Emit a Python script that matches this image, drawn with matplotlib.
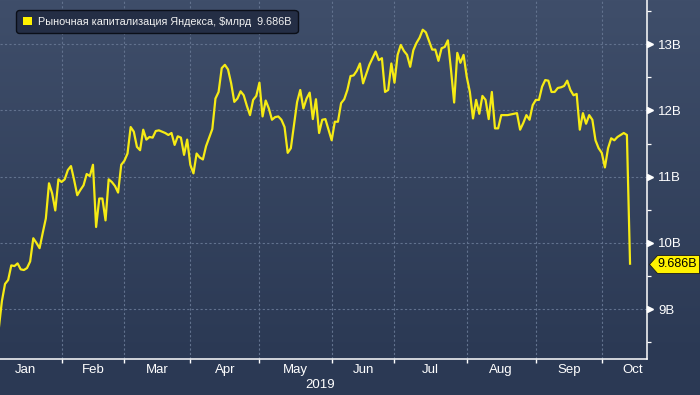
#!/usr/bin/env python3
"""Yandex market cap 2019, Bloomberg-style dark chart."""

import numpy as np
import pandas as pd
import matplotlib
matplotlib.use("Agg")
import matplotlib.pyplot as plt
from matplotlib import transforms
from matplotlib.patches import Patch

# daily closes, $bn, one value per weekday starting at START
START = "2019-01-04"
CAP_BN = [
    8.70, 9.12, 9.38, 9.44, 9.66, 9.65, 9.69, 9.60, 9.59, 9.62,
    9.72, 10.07, 10.00, 9.92, 10.15, 10.37, 10.90, 10.75, 10.49, 10.96,
    10.92, 10.96, 11.10, 11.16, 10.95, 10.72, 10.80, 10.87, 11.04, 11.01,
    11.18, 10.24, 10.67, 10.67, 10.34, 10.96, 10.92, 10.86, 10.76, 11.18,
    11.24, 11.35, 11.75, 11.68, 11.45, 11.40, 11.71, 11.56, 11.60, 11.59,
    11.69, 11.70, 11.68, 11.66, 11.63, 11.66, 11.48, 11.61, 11.59, 11.33,
    11.56, 11.18, 11.05, 11.35, 11.29, 11.26, 11.46, 11.59, 11.72, 12.18,
    12.28, 12.64, 12.69, 12.62, 12.41, 12.13, 12.18, 12.29, 12.23, 12.07,
    11.93, 12.16, 12.22, 12.42, 11.91, 12.15, 12.03, 11.86, 11.90, 11.91,
    11.86, 11.75, 11.36, 11.43, 11.78, 12.13, 12.31, 12.03, 12.18, 12.27,
    11.87, 12.17, 11.66, 11.86, 11.87, 11.71, 11.55, 11.83, 11.83, 12.11,
    12.17, 12.31, 12.52, 12.53, 12.60, 12.71, 12.41, 12.55, 12.69, 12.79,
    12.89, 12.76, 12.79, 12.28, 12.31, 12.71, 12.42, 12.84, 12.99, 12.90,
    12.84, 12.66, 12.91, 13.02, 13.10, 13.22, 13.18, 13.05, 12.92, 12.92,
    12.75, 12.94, 12.96, 13.06, 12.61, 12.12, 12.87, 12.72, 12.84, 12.51,
    12.28, 11.88, 12.16, 11.95, 12.22, 12.16, 11.87, 12.28, 11.73, 11.73,
    11.93, 11.93, 11.93, 11.94, 11.95, 11.96, 11.71, 11.81, 11.93, 11.86,
    12.08, 12.16, 12.16, 12.36, 12.46, 12.45, 12.28, 12.28, 12.34, 12.35,
    12.37, 12.45, 12.31, 12.23, 12.25, 11.71, 11.96, 11.80, 11.93, 11.86,
    11.55, 11.43, 11.36, 11.14, 11.43, 11.58, 11.55, 11.60, 11.63, 11.66,
    11.63, 9.686,
]
LAST_LABEL = "9.686B"
LEGEND_LABEL = "Рыночная капитализация Яндекса, $млрд  9.686B"

MONTHS = ["Jan", "Feb", "Mar", "Apr", "May", "Jun", "Jul", "Aug", "Sep", "Oct"]
MONTH_STARTS = [
    "2019-01-01", "2019-02-01", "2019-03-01", "2019-04-01", "2019-05-01",
    "2019-06-01", "2019-07-01", "2019-08-01", "2019-09-01", "2019-10-01",
    "2019-11-01",
]
YEAR = "2019"
Y_TICKS = [9, 10, 11, 12, 13]
Y_MINOR = [8.5, 9.5, 10.5, 11.5, 12.5, 13.5]

ORIGIN = "2019-01-01"
XLIM = (3.4, 209.4)
YLIM = (8.246, 13.669)

LINE = "#f6eb14"
TAG = "#fff200"
GRID = "#62728e"
BG_TOP = np.array([0x3f, 0x4e, 0x6a]) / 255
BG_BOT = np.array([0x2b, 0x39, 0x54]) / 255

TICK_FONT = ["Liberation Sans", "DejaVu Sans"]
LEGEND_FONT = ["Liberation Sans", "DejaVu Sans"]


def bday_pos(dates):
    return np.busday_count(ORIGIN, np.asarray(dates, dtype="datetime64[D]"))


def draw_background(fig, plot_bottom_frac):
    bg = fig.add_axes([0, 0, 1, 1], zorder=-1)
    rows = 395
    r = np.arange(rows)[:, None]
    t = np.clip(r / ((1 - plot_bottom_frac) * rows), 0, 1)
    img = BG_TOP * (1 - t) + BG_BOT * t
    bg.imshow(img[:, None, :].repeat(2, axis=1), aspect="auto", extent=(0, 1, 0, 1))
    bg.axis("off")


def main():
    W, H, DPI = 700, 395, 100
    fig = plt.figure(figsize=(W / DPI, H / DPI), dpi=DPI)
    fig.patch.set_facecolor(BG_BOT)
    left, bottom, width, height = 0, 36 / H, 647 / W, 359 / H
    draw_background(fig, bottom)

    ax = fig.add_axes([left, bottom, width, height])
    ax.set_facecolor("none")

    dates = pd.bdate_range(START, periods=len(CAP_BN))
    pos = bday_pos(dates.values.astype("datetime64[D]"))
    ax.plot(pos, CAP_BN, color=LINE, lw=1.6, zorder=3, solid_joinstyle="round")

    # x axis: month boundaries as ticks, month names centred in between
    starts = bday_pos(MONTH_STARTS)
    ends = starts[1:].astype(float)
    ends[-1] = min(ends[-1], XLIM[1] + 5)
    centers = (starts[:-1] + ends) / 2
    ax.set_xticks(starts[:-1])
    ax.set_xticklabels([])
    ax.set_xticks(centers, minor=True)
    ax.set_xticklabels(MONTHS, minor=True)
    ax.tick_params(axis="x", which="major", direction="out", length=3,
                   width=1, color="white")
    ax.tick_params(axis="x", which="minor", length=0, pad=3.5,
                   labelcolor="white", labelsize=9.5)
    for lab in ax.get_xticklabels(minor=True):
        lab.set_family(TICK_FONT)

    # y axis on the right
    ax.yaxis.tick_right()
    ax.set_yticks(Y_TICKS)
    ax.set_yticklabels([f"{v}B" for v in Y_TICKS])
    ax.set_yticks(Y_MINOR, minor=True)
    ax.tick_params(axis="y", which="major", length=0, pad=8,
                   labelcolor="white", labelsize=9.5)
    ax.tick_params(axis="y", which="minor", direction="out", length=3,
                   width=0.9, color="white")
    for lab in ax.get_yticklabels():
        lab.set_family(TICK_FONT)

    # limits after the ticks, set_ticks would widen them otherwise
    ax.set_xlim(*XLIM)
    ax.set_ylim(*YLIM)

    blend = transforms.blended_transform_factory(ax.transAxes, ax.transData)
    ax.plot(np.ones(len(Y_TICKS)), Y_TICKS, linestyle="none", marker=">",
            ms=4.5, color="white", clip_on=False, zorder=4,
            transform=transforms.offset_copy(blend, fig, x=3, units="dots"))

    ax.grid(True, which="major", color=GRID, linestyle=(0, (2, 2)), linewidth=0.8)
    ax.set_axisbelow(True)
    for side in ("top", "left"):
        ax.spines[side].set_visible(False)
    for side in ("right", "bottom"):
        ax.spines[side].set_color("white")
        ax.spines[side].set_linewidth(1.1)

    # last value tag
    tag_px = [(0, 0), (8, 9), (50, 9), (50, -9), (8, -9), (0, 0)]
    ms = 2 * max(abs(v) for p in tag_px for v in p) * 72 / DPI
    ax.plot([1.0], [CAP_BN[-1]], linestyle="none", marker=tag_px, ms=ms,
            mfc=TAG, mec="#1a1a1a", mew=0.6, clip_on=False, zorder=5,
            transform=transforms.offset_copy(blend, fig, x=2, units="dots"))
    ax.text(1.0, CAP_BN[-1], LAST_LABEL, ha="left", va="center", color="black",
            fontsize=9, family=TICK_FONT, zorder=6, clip_on=False,
            transform=transforms.offset_copy(blend, fig, x=10, units="dots"))

    fig.text(320 / W, 1 - 385 / H, YEAR, ha="center", va="center",
             color="white", fontsize=9.5, family=TICK_FONT)

    leg = ax.legend(handles=[Patch(facecolor=TAG, edgecolor="none")],
                    labels=[LEGEND_LABEL], loc="upper left",
                    bbox_to_anchor=(16 / W, 1 - 10 / H),
                    bbox_transform=fig.transFigure, borderaxespad=0,
                    prop={"family": LEGEND_FONT, "size": 7.8},
                    handlelength=0.9, handleheight=0.9, handletextpad=0.5,
                    borderpad=0.6, fancybox=True, framealpha=1,
                    facecolor="#242e45", edgecolor="#0b0f18", labelcolor="#f2f2f2")
    leg.get_frame().set_linewidth(1.0)
    leg.get_frame().set_boxstyle("round,pad=0,rounding_size=0.3")

    fig.savefig("out.png", dpi=DPI, facecolor=fig.get_facecolor())
    plt.close(fig)
    return 0


if __name__ == "__main__":
    raise SystemExit(main())
